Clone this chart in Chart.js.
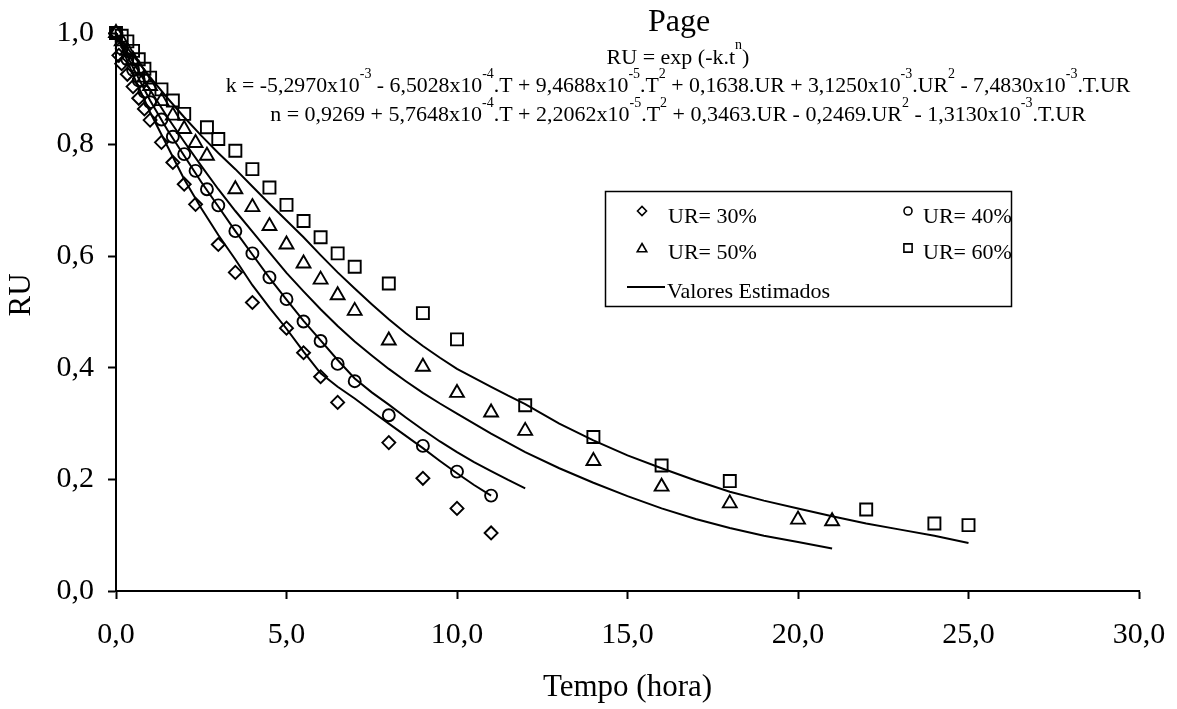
<!DOCTYPE html>
<html>
<head>
<meta charset="utf-8">
<script src="https://cdn.jsdelivr.net/npm/chart.js@4/dist/chart.umd.min.js"></script>
<style>
html, body { margin: 0; padding: 0; background: #fff; }
</style>
</head>
<body>
<canvas id="chart_ru" width="1177" height="709"></canvas>
<script>
// Measured drying curves (time in hours, RU)
const t30 = [0, 0.083, 0.167, 0.333, 0.5, 0.667, 0.833, 1.0, 1.333, 1.667, 2.0, 2.333, 3.0, 3.5, 4.0, 5.0, 5.5, 6.0, 6.5, 8, 9, 10, 11];
const ru30 = [1.0, 0.96, 0.945, 0.926, 0.904, 0.883, 0.864, 0.844, 0.804, 0.768, 0.729, 0.693, 0.621, 0.571, 0.517, 0.471, 0.427, 0.384, 0.338, 0.266, 0.202, 0.148, 0.104];

const t40 = [0, 0.167, 0.333, 0.5, 0.667, 0.833, 1.0, 1.333, 1.667, 2.0, 2.333, 2.667, 3.0, 3.5, 4.0, 4.5, 5.0, 5.5, 6.0, 6.5, 7.0, 8, 9, 10, 11];
const ru40 = [1.0, 0.972, 0.953, 0.934, 0.915, 0.895, 0.876, 0.845, 0.814, 0.783, 0.753, 0.720, 0.691, 0.645, 0.605, 0.562, 0.523, 0.483, 0.448, 0.407, 0.376, 0.315, 0.260, 0.214, 0.171];

const t50 = [0, 0.167, 0.333, 0.5, 0.667, 0.833, 1.0, 1.333, 1.667, 2.0, 2.333, 2.667, 3.5, 4.0, 4.5, 5.0, 5.5, 6.0, 6.5, 7.0, 8, 9, 10, 11, 12, 14, 16, 18, 20, 21];
const ru50 = [1.0, 0.985, 0.968, 0.952, 0.936, 0.92, 0.905, 0.878, 0.852, 0.828, 0.803, 0.780, 0.720, 0.688, 0.654, 0.621, 0.587, 0.558, 0.530, 0.502, 0.449, 0.402, 0.355, 0.320, 0.287, 0.233, 0.187, 0.157, 0.128, 0.125];

const t60 = [0, 0.167, 0.333, 0.5, 0.667, 0.833, 1.0, 1.333, 1.667, 2.0, 2.667, 3.0, 3.5, 4.0, 4.5, 5.0, 5.5, 6.0, 6.5, 7.0, 8, 9, 10, 12, 14, 16, 18, 22, 24, 25];
const ru60 = [1.0, 0.995, 0.985, 0.968, 0.953, 0.936, 0.92, 0.899, 0.879, 0.855, 0.831, 0.81, 0.789, 0.756, 0.723, 0.692, 0.663, 0.634, 0.605, 0.581, 0.551, 0.498, 0.451, 0.333, 0.276, 0.225, 0.197, 0.146, 0.121, 0.118];

// Page model, estimated values
const fitT30 = [0, 0.5, 1, 1.5, 2, 2.5, 3, 3.5, 4, 4.5, 5, 5.5, 6, 6.5, 7, 7.5, 8, 8.5, 9, 9.5, 10, 10.5, 11];
const fit30 = [1.0, 0.925, 0.858, 0.798, 0.738, 0.686, 0.638, 0.594, 0.548, 0.508, 0.470, 0.429, 0.390, 0.366, 0.345, 0.322, 0.300, 0.278, 0.256, 0.233, 0.211, 0.190, 0.171];

const fitT40 = [0, 0.5, 1, 1.5, 2, 2.5, 3, 3.5, 4, 4.5, 5, 5.5, 6, 6.5, 7, 7.5, 8, 8.5, 9, 9.5, 10, 10.5, 11, 11.5, 12];
const fit40 = [1.0, 0.938, 0.879, 0.827, 0.780, 0.733, 0.689, 0.645, 0.603, 0.561, 0.522, 0.484, 0.449, 0.414, 0.381, 0.356, 0.334, 0.311, 0.289, 0.268, 0.249, 0.231, 0.215, 0.199, 0.184];

const fitT50 = [0, 0.5, 1, 1.5, 2, 2.5, 3, 3.5, 4, 4.5, 5, 5.5, 6, 6.5, 7, 7.5, 8, 8.5, 9, 9.5, 10, 11, 12, 13, 14, 15, 16, 17, 18, 19, 20, 21];
const fit50 = [1.0, 0.948, 0.898, 0.850, 0.805, 0.762, 0.720, 0.681, 0.644, 0.607, 0.570, 0.537, 0.505, 0.475, 0.447, 0.422, 0.398, 0.376, 0.355, 0.336, 0.318, 0.282, 0.249, 0.220, 0.194, 0.170, 0.148, 0.129, 0.113, 0.099, 0.088, 0.076];

const fitT60 = [0, 0.5, 1, 1.5, 2, 2.5, 3, 3.5, 4, 4.5, 5, 5.5, 6, 6.5, 7, 7.5, 8, 8.5, 9, 9.5, 10, 10.5, 11, 11.5, 12, 13, 14, 15, 16, 17, 18, 19, 20, 21, 22, 23, 24, 25];
const fit60 = [1.0, 0.960, 0.921, 0.884, 0.849, 0.816, 0.785, 0.756, 0.725, 0.694, 0.664, 0.634, 0.602, 0.571, 0.542, 0.514, 0.487, 0.462, 0.439, 0.418, 0.398, 0.382, 0.366, 0.350, 0.335, 0.300, 0.270, 0.243, 0.220, 0.198, 0.178, 0.162, 0.148, 0.134, 0.121, 0.110, 0.099, 0.086];

const seriesLabels = ['UR= 30%', 'UR= 40%', 'UR= 50%', 'UR= 60%'];
const lineLabel = 'Valores Estimados';
const xTickLabels = ['0,0', '5,0', '10,0', '15,0', '20,0', '25,0', '30,0'];
const yTickLabels = ['0,0', '0,2', '0,4', '0,6', '0,8', '1,0'];

const SERIF = "'Liberation Serif', 'Times New Roman', serif";
Chart.defaults.font.family = SERIF;
Chart.defaults.color = '#000';

function toPoints(xs, ys) {
	return xs.map((x, i) => ({x: x, y: ys[i]}));
}

function markerSet(label, xs, ys, style, radius) {
	return {
		label: label,
		data: toPoints(xs, ys),
		showLine: false,
		pointStyle: style,
		pointRadius: radius,
		pointBorderWidth: 1.9,
		pointBorderColor: '#000',
		pointBackgroundColor: 'rgba(0,0,0,0)',
		clip: false
	};
}

function lineSet(xs, ys) {
	return {
		label: lineLabel,
		data: toPoints(xs, ys),
		showLine: true,
		pointRadius: 0,
		borderColor: '#000',
		borderWidth: 2,
		tension: 0,
		clip: false
	};
}

// Equation lines, '^' marks a superscript piece
const eqLines = [
	['RU = exp (-k.t', '^n', ')'],
	['k = -5,2970x10', '^-3', ' - 6,5028x10', '^-4', '.T + 9,4688x10', '^-5', '.T', '^2', ' + 0,1638.UR + 3,1250x10', '^-3', '.UR', '^2', ' - 7,4830x10', '^-3', '.T.UR'],
	['n = 0,9269 + 5,7648x10', '^-4', '.T + 2,2062x10', '^-5', '.T', '^2', ' + 0,3463.UR - 0,2469.UR', '^2', ' - 1,3130x10', '^-3', '.T.UR']
];

function drawRich(ctx, parts, cx, baseline, size, supSize, rise) {
	let total = 0;
	parts.forEach(p => {
		const sup = p[0] === '^';
		ctx.font = (sup ? supSize : size) + 'px ' + SERIF;
		total += ctx.measureText(sup ? p.slice(1) : p).width;
	});
	let x = cx - total / 2;
	parts.forEach(p => {
		const sup = p[0] === '^';
		const txt = sup ? p.slice(1) : p;
		ctx.font = (sup ? supSize : size) + 'px ' + SERIF;
		ctx.fillText(txt, x, sup ? baseline - rise : baseline);
		x += ctx.measureText(txt).width;
	});
}

const decorPlugin = {
	id: 'decor',
	afterDraw(chart) {
		const ctx = chart.ctx;
		ctx.save();
		ctx.fillStyle = '#000';
		ctx.strokeStyle = '#000';
		ctx.textAlign = 'left';
		ctx.textBaseline = 'alphabetic';

		// title and model equations
		ctx.font = '32px ' + SERIF;
		ctx.textAlign = 'center';
		ctx.fillText('Page', 679, 31);
		ctx.textAlign = 'left';
		drawRich(ctx, eqLines[0], 678, 64, 22, 14, 15);
		drawRich(ctx, eqLines[1], 678, 92, 21.8, 14, 14);
		drawRich(ctx, eqLines[2], 678, 121, 22, 14, 14);

		// y axis title
		ctx.save();
		ctx.translate(22, 295);
		ctx.rotate(-Math.PI / 2);
		ctx.font = '31px ' + SERIF;
		ctx.textAlign = 'center';
		ctx.textBaseline = 'middle';
		ctx.fillText('RU', 0, 0);
		ctx.restore();

		// legend box
		ctx.lineWidth = 1.5;
		ctx.strokeRect(605.5, 191.5, 406, 115);
		const legendMarks = [
			{style: 'rectRot', r: 4.5, x: 642, y: 211, tx: 668, ty: 223},
			{style: 'circle', r: 4, x: 908, y: 211, tx: 923, ty: 223},
			{style: 'triangle', r: 5.5, x: 642, y: 249, tx: 668, ty: 259},
			{style: 'rect', r: 5.8, x: 908, y: 248, tx: 923, ty: 259}
		];
		ctx.font = '22px ' + SERIF;
		legendMarks.forEach((m, i) => {
			ctx.fillStyle = 'rgba(0,0,0,0)';
			ctx.lineWidth = 1.6;
			Chart.helpers.drawPoint(ctx, {pointStyle: m.style, radius: m.r, rotation: 0, borderWidth: 1.6}, m.x, m.y);
			ctx.fillStyle = '#000';
			ctx.fillText(seriesLabels[i], m.tx, m.ty);
		});
		ctx.lineWidth = 2;
		ctx.beginPath();
		ctx.moveTo(627, 287);
		ctx.lineTo(665, 287);
		ctx.stroke();
		ctx.fillText(lineLabel, 667, 298);
		ctx.restore();
	}
};

const chart_ru = new Chart(document.getElementById('chart_ru'), {
	type: 'scatter',
	data: {
		datasets: [
			markerSet(seriesLabels[0], t30, ru30, 'rectRot', 6.5),
			markerSet(seriesLabels[1], t40, ru40, 'circle', 6),
			markerSet(seriesLabels[2], t50, ru50, 'triangle', 8),
			markerSet(seriesLabels[3], t60, ru60, 'rect', 8.5),
			lineSet(fitT30, fit30),
			lineSet(fitT40, fit40),
			lineSet(fitT50, fit50),
			lineSet(fitT60, fit60)
		]
	},
	options: {
		responsive: false,
		animation: false,
		events: [],
		layout: {padding: {left: 0, right: 38, top: 33, bottom: 0}},
		plugins: {
			legend: {display: false},
			tooltip: {enabled: false}
		},
		scales: {
			x: {
				type: 'linear',
				min: 0,
				max: 30,
				afterFit: (s) => {
					s.height = 118;
					// keep the end labels from squeezing the plot width
					s.paddingLeft = 0;
					s.paddingRight = 0;
				},
				ticks: {
					stepSize: 5,
					padding: 18,
					font: {size: 30},
					maxRotation: 0,
					callback: (v) => xTickLabels[Math.round(v / 5)]
				},
				grid: {drawOnChartArea: false, drawTicks: true, tickLength: 8, tickWidth: 2, tickColor: '#000'},
				border: {display: true, color: '#000', width: 2},
				title: {display: true, text: 'Tempo (hora)', font: {size: 31}, padding: {top: 0, bottom: 3}}
			},
			y: {
				type: 'linear',
				min: 0,
				max: 1,
				afterFit: (s) => { s.width = 116; },
				ticks: {
					stepSize: 0.2,
					padding: 14,
					font: {size: 30},
					callback: (v) => yTickLabels[Math.round(v / 0.2)]
				},
				grid: {drawOnChartArea: false, drawTicks: true, tickLength: 8, tickWidth: 2, tickColor: '#000'},
				border: {display: true, color: '#000', width: 2}
			}
		}
	},
	plugins: [decorPlugin]
});
</script>
</body>
</html>
